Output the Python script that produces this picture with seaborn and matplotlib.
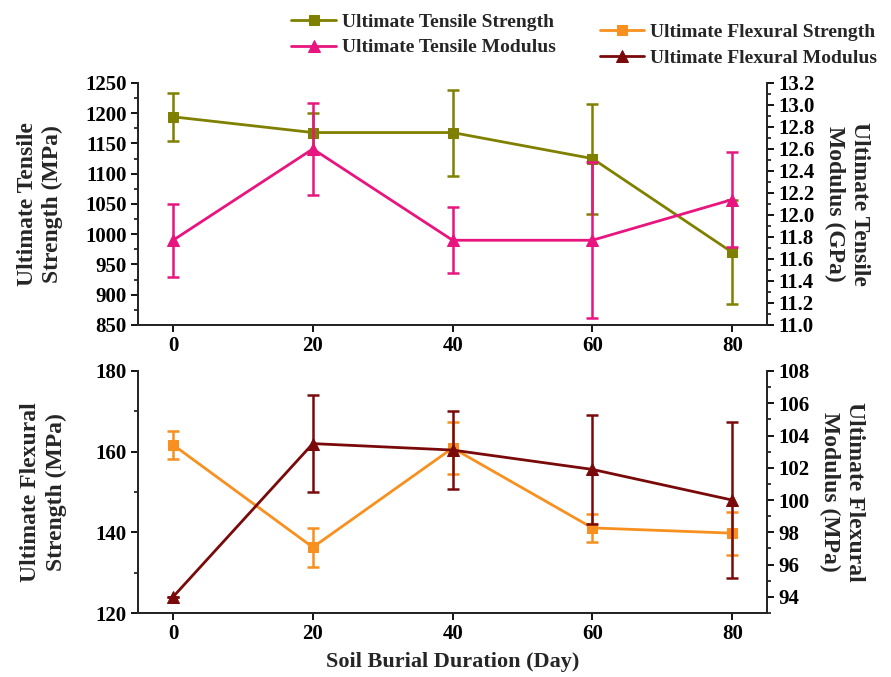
import matplotlib
matplotlib.use("Agg")
import matplotlib.pyplot as plt
from matplotlib.ticker import MultipleLocator, FormatStrFormatter
import seaborn as sns
import pandas as pd

# soil burial duration (days)
days = [0, 20, 40, 60, 80]

# tensile tests
uts = [1194, 1168, 1168, 1125, 970]          # MPa
uts_err = [40, 33, 71, 91, 86]
utm = [11.77, 12.60, 11.77, 11.77, 12.14]    # GPa
utm_err = [0.33, 0.42, 0.30, 0.71, 0.43]

# flexural tests
ufs = [161.7, 136.3, 160.9, 141.1, 139.8]    # MPa
ufs_err = [3.4, 4.8, 6.5, 3.5, 5.3]
ufm = [94.0, 103.5, 103.1, 101.9, 100.0]     # MPa
ufm_err = [0.0, 3.0, 2.4, 3.4, 4.85]

OLIVE = "#808000"
PINK = "#E8157F"
ORANGE = "#F7901E"
MAROON = "#7A0A0A"

sns.set_style("ticks")
plt.rcParams["font.family"] = ["Liberation Serif", "DejaVu Serif"]
plt.rcParams["font.weight"] = "bold"
plt.rcParams["axes.labelweight"] = "bold"
plt.rcParams["axes.linewidth"] = 1.4
plt.rcParams["xtick.major.width"] = 1.3
plt.rcParams["ytick.major.width"] = 1.3
plt.rcParams["ytick.minor.width"] = 1.1
plt.rcParams["xtick.major.size"] = 5
plt.rcParams["ytick.major.size"] = 5
plt.rcParams["ytick.minor.size"] = 3
plt.rcParams["xtick.color"] = "black"
plt.rcParams["ytick.color"] = "black"

TICK_FS = 15
LABEL_FS = 17


def draw_series(ax, x, y, err, color, marker, ms, label):
    df = pd.DataFrame({"day": x, "val": y})
    sns.lineplot(data=df, x="day", y="val", ax=ax, color=color, marker=marker,
                 markersize=ms, markeredgecolor=color, linewidth=2.0, label=label,
                 legend=False)
    ax.errorbar(x, y, yerr=err, fmt="none", ecolor=color, elinewidth=1.8,
                capsize=4.5, capthick=1.8)


def style_axes(ax, ax2):
    ax.set_xlim(-5, 85)
    ax.set_xticks(days)
    ax.spines["top"].set_visible(False)
    ax2.spines["top"].set_visible(False)
    for a in (ax, ax2):
        a.tick_params(axis="both", labelsize=TICK_FS, direction="out", pad=3)
        a.set_xlabel("")
        for t in a.get_xticklabels() + a.get_yticklabels():
            t.set_fontweight("bold")


fig = plt.figure(figsize=(8.91, 6.77), dpi=100)
ax_top = fig.add_axes([0.155, 0.520, 0.706, 0.3575])
ax_top2 = ax_top.twinx()
ax_bot = fig.add_axes([0.155, 0.0945, 0.706, 0.3575])
ax_bot2 = ax_bot.twinx()

# top panel: tensile
draw_series(ax_top, days, uts, uts_err, OLIVE, "s", 7, "Ultimate Tensile Strength")
draw_series(ax_top2, days, utm, utm_err, PINK, "^", 8.5, "Ultimate Tensile Modulus")
ax_top.set_ylim(850, 1250)
ax_top.yaxis.set_major_locator(MultipleLocator(50))
ax_top.yaxis.set_minor_locator(MultipleLocator(25))
ax_top2.set_ylim(11.0, 13.2)
ax_top2.yaxis.set_major_locator(MultipleLocator(0.2))
ax_top2.yaxis.set_minor_locator(MultipleLocator(0.1))
ax_top2.yaxis.set_major_formatter(FormatStrFormatter("%.1f"))
style_axes(ax_top, ax_top2)
ax_top.set_ylabel("Ultimate Tensile\nStrength (MPa)", fontsize=LABEL_FS, linespacing=1.25,
                  labelpad=16)
ax_top2.set_ylabel("Ultimate Tensile\nModulus (GPa)", fontsize=LABEL_FS, rotation=270,
                   labelpad=40, linespacing=1.25)

# bottom panel: flexural
draw_series(ax_bot, days, ufs, ufs_err, ORANGE, "s", 7, "Ultimate Flexural Strength")
draw_series(ax_bot2, days, ufm, ufm_err, MAROON, "^", 8.5, "Ultimate Flexural Modulus")
ax_bot.set_ylim(120, 180)
ax_bot.yaxis.set_major_locator(MultipleLocator(20))
ax_bot.yaxis.set_minor_locator(MultipleLocator(10))
ax_bot2.set_ylim(93, 108)
ax_bot2.set_yticks([94, 96, 98, 100, 102, 104, 106, 108])
ax_bot2.yaxis.set_minor_locator(MultipleLocator(1))
style_axes(ax_bot, ax_bot2)
ax_bot.set_ylabel("Ultimate Flexural\nStrength (MPa)", fontsize=LABEL_FS, linespacing=1.25,
                  labelpad=21)
ax_bot2.set_ylabel("Ultimate Flexural\nModulus (MPa)", fontsize=LABEL_FS, rotation=270,
                   labelpad=40, linespacing=1.25)
ax_bot.set_xlabel("Soil Burial Duration (Day)", fontsize=16, labelpad=6)

# legends
h1, l1 = ax_top.get_legend_handles_labels()
h2, l2 = ax_top2.get_legend_handles_labels()
h3, l3 = ax_bot.get_legend_handles_labels()
h4, l4 = ax_bot2.get_legend_handles_labels()
leg_kw = dict(frameon=False, fontsize=14, handlelength=2.3, handletextpad=0.3,
              labelspacing=0.42, borderpad=0)
fig.legend(h1 + h2, l1 + l2, loc="upper left", bbox_to_anchor=(0.316, 0.995), **leg_kw)
fig.legend(h3 + h4, l3 + l4, loc="upper left", bbox_to_anchor=(0.662, 0.98), **leg_kw)

fig.savefig("out.png", dpi=100)
